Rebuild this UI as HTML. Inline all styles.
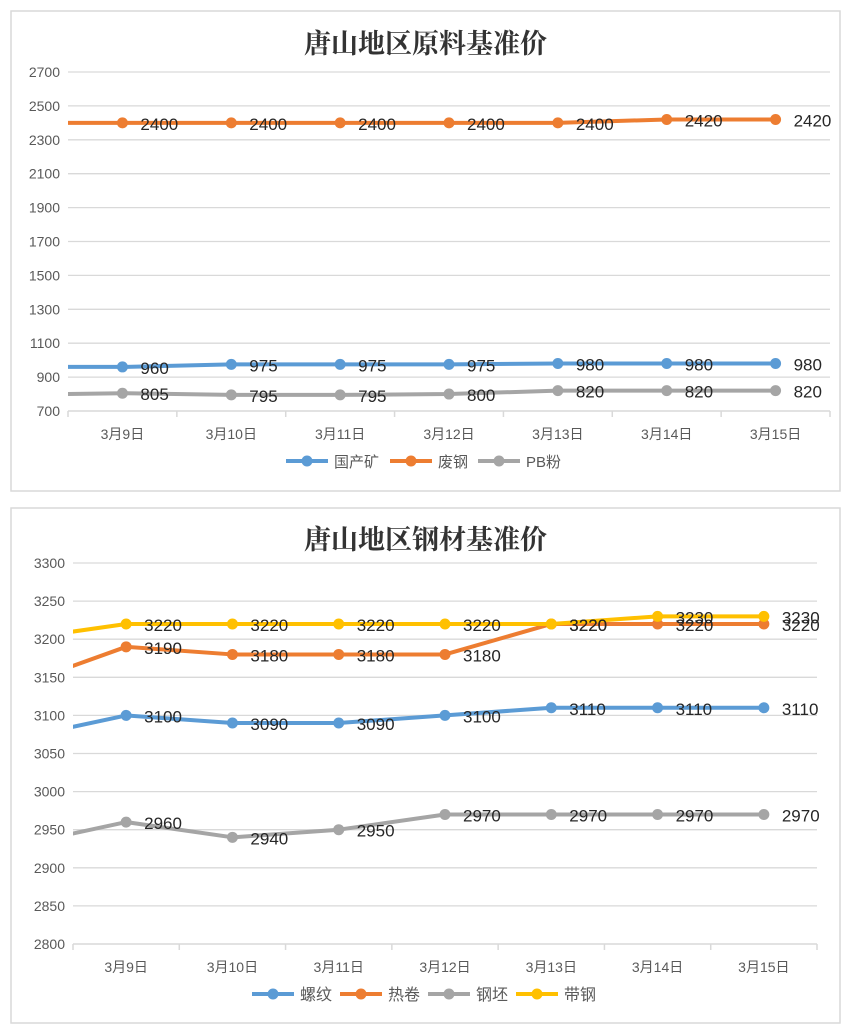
<!DOCTYPE html>
<html><head><meta charset="utf-8"><style>
body{margin:0;background:#fff;width:849px;height:1035px;overflow:hidden;font-family:"Liberation Sans","Noto Sans CJK SC",sans-serif}
svg{position:absolute;left:0;top:0}
</style></head><body>
<svg id="s" width="849" height="1035"></svg>
<script>
// Chart 1 data
const cats = ["3月9日","3月10日","3月11日","3月12日","3月13日","3月14日","3月15日"];
const ore = [960,975,975,975,980,980,980];
const scrap = [2400,2400,2400,2400,2400,2420,2420];
const pb = [805,795,795,800,820,820,820];
const orePrev = 960, scrapPrev = 2400, pbPrev = 795;
const ticks1 = [700,900,1100,1300,1500,1700,1900,2100,2300,2500,2700];
// Chart 2 data
const rebar = [3100,3090,3090,3100,3110,3110,3110];
const hotcoil = [3190,3180,3180,3180,3220,3220,3220];
const billet = [2960,2940,2950,2970,2970,2970,2970];
const strip = [3220,3220,3220,3220,3220,3230,3230];
const rebarPrev = 3070, hotcoilPrev = 3140, billetPrev = 2930, stripPrev = 3200;
const ticks2 = [2800,2850,2900,2950,3000,3050,3100,3150,3200,3250,3300];

const NS="http://www.w3.org/2000/svg";
const svg=document.getElementById('s');
function mk(tag,attrs,parent,text){const e=document.createElementNS(NS,tag);for(const k in attrs)e.setAttribute(k,attrs[k]);if(text!==undefined)e.textContent=text;(parent||svg).appendChild(e);return e;}

function chart(cfg){
  const g=mk('g',{});
  
  
  const box=mk('rect',{x:cfg.box[0],y:cfg.box[1],width:cfg.box[2],height:cfg.box[3],fill:'#fff',stroke:'#d9d9d9','stroke-width':1.5},g);
  
  const t=mk('text',{x:(cfg.box[0]+cfg.box[0]+cfg.box[2])/2,y:cfg.titleY,'text-anchor':'middle','font-size':27,'font-weight':'bold','font-family':'"Liberation Serif","Noto Serif CJK SC",serif',fill:'#333'},g,cfg.title);
  
  const lo=cfg.ticks[0],hi=cfg.ticks[cfg.ticks.length-1];
  const y=v=>cfg.yTop+(hi-v)/(hi-lo)*(cfg.yBot-cfg.yTop);
  const step=(cfg.xR-cfg.xL)/cats.length;
  const x=i=>cfg.xL+step*(i+0.5);
  cfg.ticks.forEach(v=>{
    if(v!==lo){const l=mk('line',{x1:cfg.xL,x2:cfg.xR,y1:y(v),y2:y(v),stroke:'#d9d9d9','stroke-width':1.3},g);}
    const tt=mk('text',{x:cfg.xL-8,y:y(v)+5,'text-anchor':'end','font-size':14,fill:'#595959'},g,String(v));
    
  });
  const ax=mk('line',{x1:cfg.xL,x2:cfg.xR,y1:cfg.yBot,y2:cfg.yBot,stroke:'#d9d9d9','stroke-width':1.5},g);
  
  for(let i=0;i<=cats.length;i++){const tk=mk('line',{x1:cfg.xL+step*i,x2:cfg.xL+step*i,y1:cfg.yBot,y2:cfg.yBot+6,stroke:'#d9d9d9','stroke-width':1.5},g);}
  cats.forEach((c,i)=>{const tt=mk('text',{x:x(i),y:cfg.yBot+28,'text-anchor':'middle','font-size':14,fill:'#595959'},g,c);});
  const clipId='c'+cfg.name;
  const cp=mk('clipPath',{id:clipId},g);mk('rect',{x:cfg.xL,y:cfg.yTop-20,width:cfg.xR-cfg.xL+5,height:cfg.yBot-cfg.yTop+40},cp);
  cfg.series.forEach(s=>{
    const pts=[[x(-1),y(s.prev)]].concat(s.vals.map((v,i)=>[x(i),y(v)]));
    const p=mk('polyline',{points:pts.map(p=>p.join(',')).join(' '),fill:'none',stroke:s.color,'stroke-width':4,'stroke-linejoin':'round','clip-path':'url(#'+clipId+')'},g);
    
    s.vals.forEach((v,i)=>{
      const c=mk('circle',{cx:x(i),cy:y(v),r:5.5,fill:s.color},g);
      
    });
  });
  cfg.series.forEach(s=>{s.vals.forEach((v,i)=>{
      const l=mk('text',{x:x(i)+18,y:y(v)+7,'font-size':17,fill:'#262626'},g,String(v));
      
  });});
  let lx=cfg.legendX;
  cfg.series.forEach(s=>{
    const lg=mk('g',{},g);
    mk('line',{x1:lx,x2:lx+42,y1:cfg.legendY,y2:cfg.legendY,stroke:s.color,'stroke-width':4},lg);
    mk('circle',{cx:lx+21,cy:cfg.legendY,r:5.5,fill:s.color},lg);
    mk('text',{x:lx+48,y:cfg.legendY+6,'font-size':s.lfs||15,fill:'#595959'},lg,s.label);
    lx+=s.w;
  });
}
chart({name:'raw-material-chart',box:[11,11,829,480],title:'唐山地区原料基准价',titleY:53,ticks:ticks1,yTop:72,yBot:411,xL:68,xR:830,legendX:286,legendY:461,
  series:[
   {key:'ore',label:'国产矿',vals:ore,prev:orePrev,color:'#5b9bd5',w:104},
   {key:'scrap',label:'废钢',vals:scrap,prev:scrapPrev,color:'#ed7d31',w:88},
   {key:'pb',label:'PB粉',vals:pb,prev:pbPrev,color:'#a5a5a5',w:100}]});
chart({name:'steel-chart',box:[11,508,829,515],title:'唐山地区钢材基准价',titleY:549,ticks:ticks2,yTop:563,yBot:944,xL:73,xR:817,legendX:252,legendY:994,
  series:[
   {key:'rebar',label:'螺纹',vals:rebar,prev:rebarPrev,color:'#5b9bd5',w:88,lfs:16},
   {key:'hotcoil',label:'热卷',vals:hotcoil,prev:hotcoilPrev,color:'#ed7d31',w:88,lfs:16},
   {key:'billet',label:'钢坯',vals:billet,prev:billetPrev,color:'#a5a5a5',w:88,lfs:16},
   {key:'strip',label:'带钢',vals:strip,prev:stripPrev,color:'#ffc000',w:88,lfs:16}]});
</script>
</body></html>
